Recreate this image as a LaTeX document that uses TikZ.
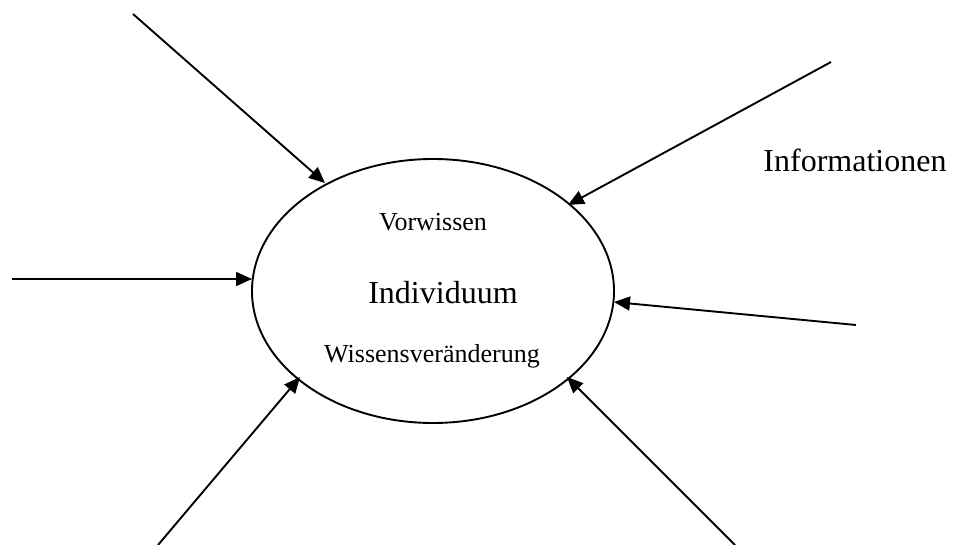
\documentclass[tikz,border=0pt]{standalone}
\usepackage{fontspec}
\setmainfont{Liberation Serif}
\usetikzlibrary{arrows.meta,shapes.geometric}
\tikzset{
  arr/.style={line width=1.9pt,-{Triangle[length=16pt,width=14pt]}},
  bigtxt/.style={font=\fontsize{32}{36}\selectfont,inner sep=0pt},
  smalltxt/.style={font=\fontsize{26}{30}\selectfont,inner sep=0pt}
}
\begin{document}
\begin{tikzpicture}[x=1pt,y=-1pt]
\useasboundingbox (0,0) rectangle (956,545);
\node[draw,ellipse,line width=1.9pt,minimum width=362pt,minimum height=264pt,inner sep=0pt] (ind) at (433,291) {};
\node[smalltxt] (vor) at (433,222) {Vorwissen};
\node[bigtxt] (indt) at (443,293) {Individuum};
\node[smalltxt] (wis) at (432,356) {Wissensveränderung};
\node[bigtxt] (info) at (855,160) {Informationen};
% free ends
\coordinate (s1) at (133,14);
\coordinate (s2) at (831,62);
\coordinate (s3) at (12,279);
\coordinate (s4) at (856,325);
\coordinate (s5) at (158,545);
\coordinate (s6) at (735,545);
% tips on ellipse
\coordinate (t1) at (325,183);
\coordinate (t2) at (568,205);
\coordinate (t3) at (252,279);
\coordinate (t4) at (614,302);
\coordinate (t5) at (300,377);
\coordinate (t6) at (567,377);
\draw[arr] (s1) -- (t1);
\draw[arr] (s2) -- (t2);
\draw[arr] (s3) -- (t3);
\draw[arr] (s4) -- (t4);
\draw[arr] (s5) -- (t5);
\draw[arr] (s6) -- (t6);
\end{tikzpicture}
\end{document}
